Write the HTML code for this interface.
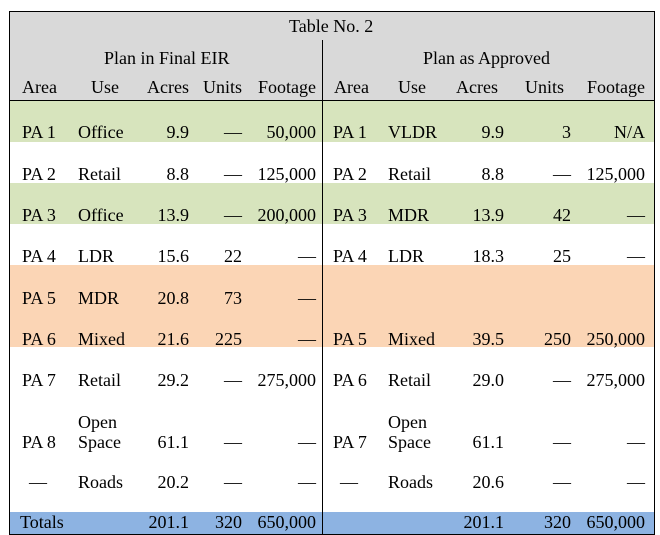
<!DOCTYPE html>
<html><head><meta charset="utf-8"><style>
body{margin:0;width:660px;height:534px;background:#fff;position:relative;overflow:hidden;font-family:"Liberation Serif","DejaVu Serif",serif;font-size:18px;color:#000}
.b{position:absolute}
.t{position:absolute;line-height:20px;white-space:nowrap}
</style></head><body>
<div class="b" style="left:9px;top:11px;width:646px;height:90px;background:#d9d9d9"></div>
<div class="b" style="left:9px;top:101px;width:646px;height:41px;background:#d7e4bd"></div>
<div class="b" style="left:9px;top:183px;width:646px;height:41px;background:#d7e4bd"></div>
<div class="b" style="left:9px;top:265px;width:646px;height:82px;background:#fbd5b5"></div>
<div class="b" style="left:9px;top:512px;width:646px;height:22px;background:#8db3e2"></div>
<div class="b" style="left:9px;top:11px;width:644px;height:522px;border:1px solid #000"></div>
<div class="b" style="left:9px;top:100px;width:646px;height:1px;background:#000"></div>
<div class="b" style="left:322px;top:40px;width:1px;height:494px;background:#000"></div>
<script>
var L=[22,78,189,242,316],R=[333,388,504,571,645];
function put(x,y,s,right){var d=document.createElement('div');d.className='t';d.textContent=s;d.style.top=(y-9)+'px';if(right){d.style.right=(660-x)+'px';}else d.style.left=x+'px';document.body.appendChild(d);}
function row(cols,y,v){put(cols[0],y,v[0]);put(cols[1],y,v[1]);put(cols[2],y,v[2],1);put(cols[3],y,v[3],1);put(cols[4],y,v[4],1);}
put(289,25,'Table No. 2');put(104,57,'Plan in Final EIR');put(423,57,'Plan as Approved');
put(22,86,'Area');put(91,86,'Use');put(189,86,'Acres',1);put(242,86,'Units',1);put(316,86,'Footage',1);
put(334,86,'Area');put(398,86,'Use');put(498,86,'Acres',1);put(564,86,'Units',1);put(645,86,'Footage',1);
var D='\u2014';
var l=[[131,'PA 1','Office','9.9',D,'50,000'],[173,'PA 2','Retail','8.8',D,'125,000'],[214,'PA 3','Office','13.9',D,'200,000'],[255,'PA 4','LDR','15.6','22',D],[297,'PA 5','MDR','20.8','73',D],[338,'PA 6','Mixed','21.6','225',D],[379,'PA 7','Retail','29.2',D,'275,000'],[441,'PA 8','Space','61.1',D,D]];
l.forEach(function(a){row(L,a[0],a.slice(1));});
put(78,421,'Open');
put(29,481,D);put(78,481,'Roads');put(189,481,'20.2',1);put(242,481,D,1);put(316,481,D,1);
put(20,521,'Totals');put(189,521,'201.1',1);put(242,521,'320',1);put(316,521,'650,000',1);
var r=[[131,'PA 1','VLDR','9.9','3','N/A'],[173,'PA 2','Retail','8.8',D,'125,000'],[214,'PA 3','MDR','13.9','42',D],[255,'PA 4','LDR','18.3','25',D],[338,'PA 5','Mixed','39.5','250','250,000'],[379,'PA 6','Retail','29.0',D,'275,000'],[441,'PA 7','Space','61.1',D,D]];
r.forEach(function(a){row(R,a[0],a.slice(1));});
put(388,421,'Open');
put(340,481,D);put(388,481,'Roads');put(504,481,'20.6',1);put(571,481,D,1);put(645,481,D,1);
put(504,521,'201.1',1);put(571,521,'320',1);put(645,521,'650,000',1);
</script>
</body></html>
